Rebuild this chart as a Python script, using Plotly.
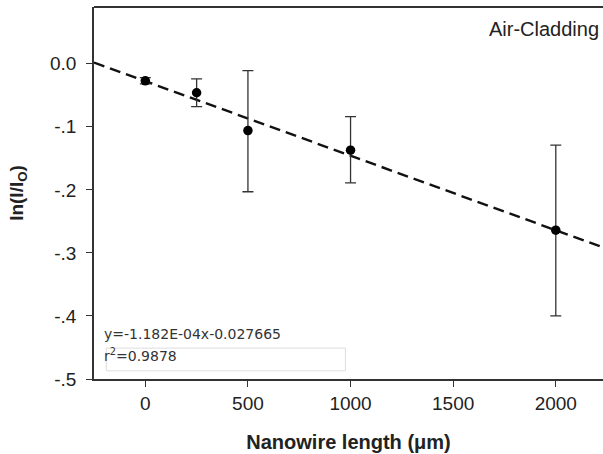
import plotly.graph_objects as go

lengths = [0, 250, 500, 1000, 2000]
ln_ratio = [-0.027, -0.046, -0.106, -0.137, -0.264]
err_plus = [0.005, 0.022, 0.095, 0.053, 0.135]
err_minus = [0.005, 0.022, 0.097, 0.052, 0.136]

slope = -1.182e-4
intercept = -0.027665
fit_x = [-250, 2240]
fit_y = [slope * x + intercept for x in fit_x]

x_ticks = [0, 500, 1000, 1500, 2000]
y_ticks = [0.0, -0.1, -0.2, -0.3, -0.4, -0.5]
y_tick_text = ["0.0", "-.1", "-.2", "-.3", "-.4", "-.5"]

fig = go.Figure()
fig.add_trace(go.Scatter(x=fit_x, y=fit_y, mode="lines",
                         line=dict(color="#111111", width=2.4, dash="11px,6px"),
                         showlegend=False, hoverinfo="skip"))
fig.add_trace(go.Scatter(x=lengths, y=ln_ratio, mode="markers",
                         marker=dict(color="black", size=9.5),
                         error_y=dict(type="data", symmetric=False, array=err_plus,
                                      arrayminus=err_minus, color="#333333",
                                      thickness=1.3, width=5.5),
                         showlegend=False))

fig.update_layout(
    width=603, height=454,
    margin=dict(l=94, r=0, t=7, b=75),
    plot_bgcolor="white", paper_bgcolor="white",
    font=dict(family="Liberation Sans, Arial", color="#222222", size=19),
    xaxis=dict(range=[-250, 2230], tickvals=x_ticks, ticks="outside", ticklen=6,
               tickcolor="#333333", showline=True, linecolor="#333333", linewidth=1.6,
               showgrid=False, zeroline=False, mirror=False,
               tickfont=dict(size=19),
               title=dict(text="<b>Nanowire length (μm)</b>", font=dict(size=20), standoff=22)),
    yaxis=dict(range=[-0.5, 0.09], tickvals=y_ticks, ticktext=y_tick_text, ticks="outside",
               ticklen=6, tickcolor="#333333", showline=True, linecolor="#333333",
               linewidth=1.6, showgrid=False, zeroline=False,
               tickfont=dict(size=19), ticklabelstandoff=6,
               title=dict(text="<b>ln(I/I<sub>O</sub>)</b>", font=dict(size=19), standoff=21)),
    shapes=[
        dict(type="line", xref="paper", yref="paper", x0=0, x1=1, y0=1, y1=1,
             line=dict(color="#333333", width=1.8)),
        dict(type="rect", xref="x", yref="y", x0=-190, x1=975, y0=-0.487, y1=-0.451,
             line=dict(color="#dddddd", width=1), fillcolor="rgba(0,0,0,0)"),
    ],
    annotations=[
        dict(text="Air-Cladding", xref="paper", yref="paper", x=0.997, y=0.975,
             xanchor="right", yanchor="top", showarrow=False, font=dict(size=20)),
        dict(text="y=-1.182E-04x-0.027665", xref="x", yref="y", x=-210, y=-0.428,
             xanchor="left", yanchor="middle", showarrow=False,
             font=dict(family="DejaVu Sans", size=14, color="#333333")),
        dict(text="r<sup>2</sup>=0.9878", xref="x", yref="y", x=-210, y=-0.462,
             xanchor="left", yanchor="middle", showarrow=False,
             font=dict(family="DejaVu Sans", size=14, color="#333333")),
    ],
)

fig.write_html("out.html")
